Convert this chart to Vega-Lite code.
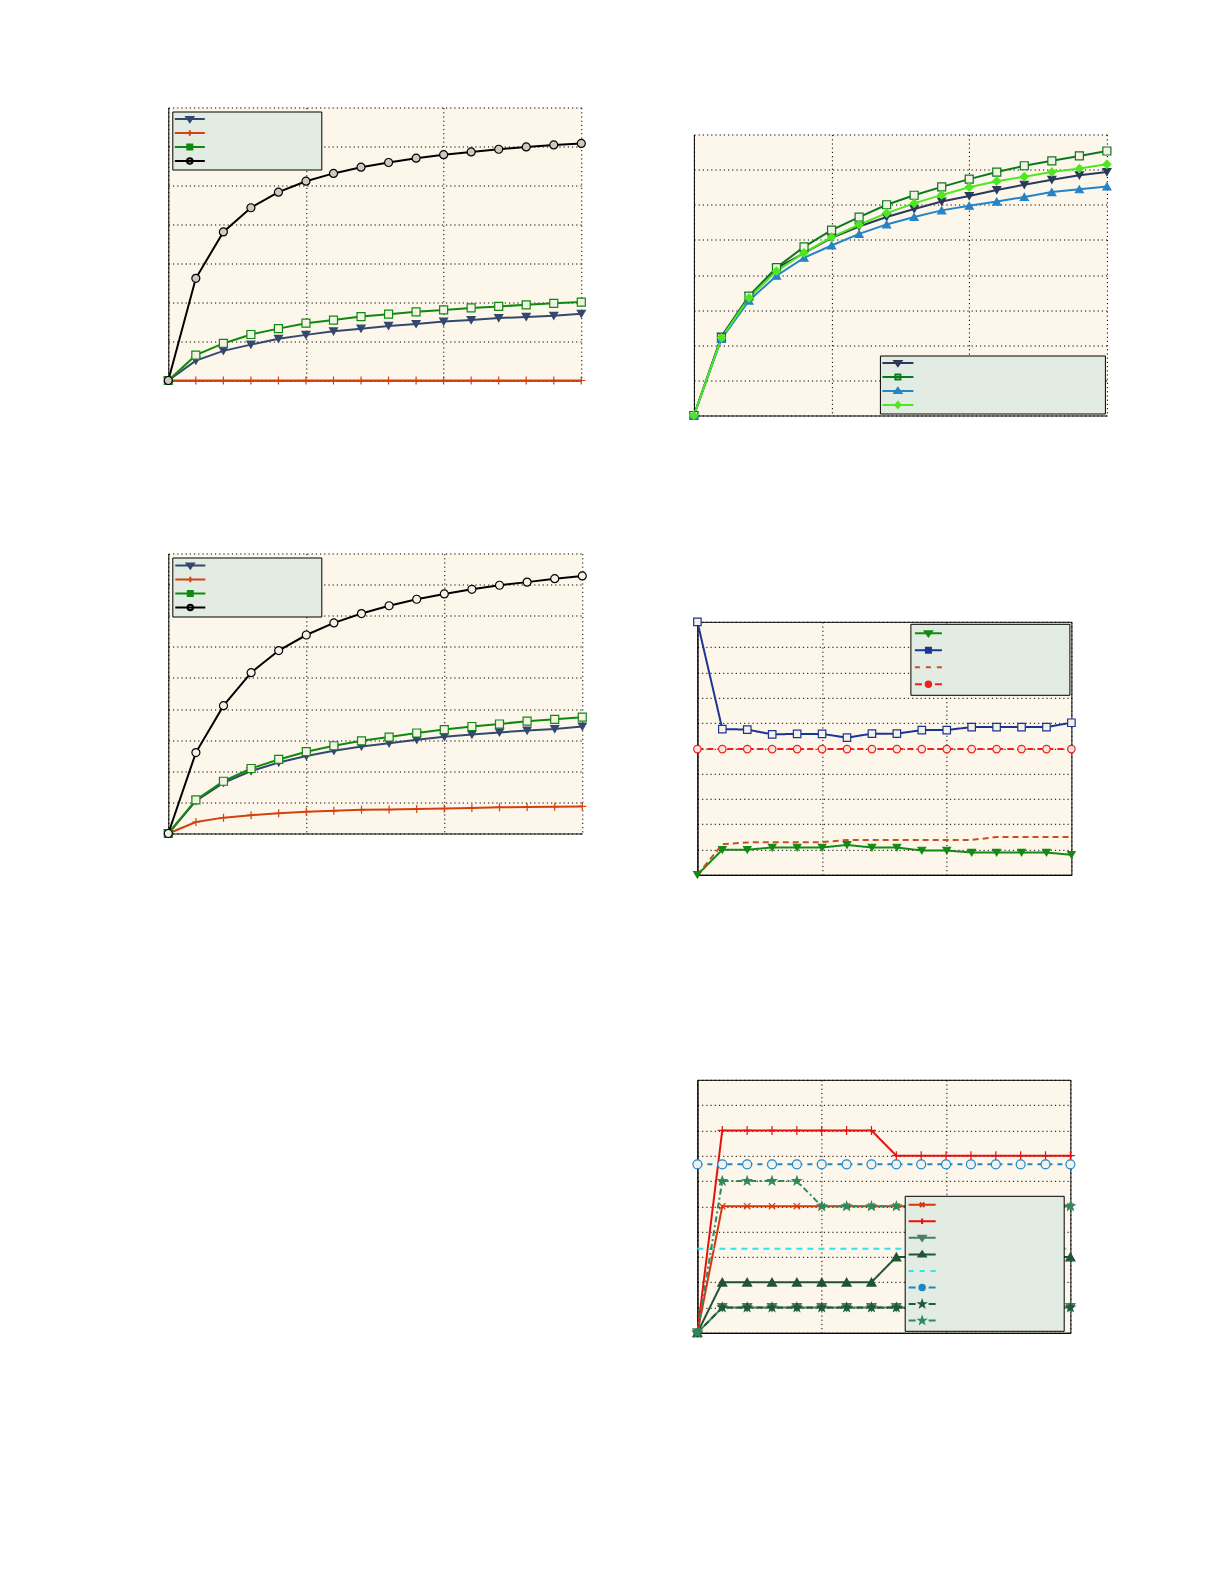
{
  "$schema": "https://vega.github.io/schema/vega-lite/v6.json",
  "padding": {"left": 161.3, "top": 107.5, "right": 0, "bottom": 0},
  "background": "white",
  "config": {
    "view": {"fill": "#fdf6ea", "stroke": null},
    "axis": {"labels": false, "ticks": false, "domainColor": "black", "domainWidth": 1, "grid": true, "gridColor": "black", "gridDash": [1.2, 3], "gridOpacity": 1, "gridWidth": 1}
  },
  "datasets": {
    "pA": [
      {"x": 0, "A1": 0, "A2": 0, "A3": 0, "A4": 0},
      {"x": 1, "A1": 0.51, "A2": 0, "A3": 0.65, "A4": 2.62},
      {"x": 2, "A1": 0.76, "A2": 0, "A3": 0.95, "A4": 3.81},
      {"x": 3, "A1": 0.92, "A2": 0, "A3": 1.18, "A4": 4.43},
      {"x": 4, "A1": 1.07, "A2": 0, "A3": 1.33, "A4": 4.83},
      {"x": 5, "A1": 1.17, "A2": 0, "A3": 1.47, "A4": 5.11},
      {"x": 6, "A1": 1.26, "A2": 0, "A3": 1.55, "A4": 5.31},
      {"x": 7, "A1": 1.33, "A2": 0, "A3": 1.64, "A4": 5.47},
      {"x": 8, "A1": 1.40, "A2": 0, "A3": 1.70, "A4": 5.59},
      {"x": 9, "A1": 1.45, "A2": 0, "A3": 1.76, "A4": 5.70},
      {"x": 10, "A1": 1.51, "A2": 0, "A3": 1.81, "A4": 5.79},
      {"x": 11, "A1": 1.55, "A2": 0, "A3": 1.86, "A4": 5.86},
      {"x": 12, "A1": 1.60, "A2": 0, "A3": 1.90, "A4": 5.93},
      {"x": 13, "A1": 1.63, "A2": 0, "A3": 1.94, "A4": 5.99},
      {"x": 14, "A1": 1.66, "A2": 0, "A3": 1.98, "A4": 6.04},
      {"x": 15, "A1": 1.71, "A2": 0, "A3": 2.01, "A4": 6.08}
    ],
    "pB": [
      {"x": 0, "B1": 0, "B2": 0, "B3": 0, "B4": 0},
      {"x": 1, "B1": 1.05, "B2": 0.37, "B3": 1.08, "B4": 2.60},
      {"x": 2, "B1": 1.63, "B2": 0.51, "B3": 1.68, "B4": 4.11},
      {"x": 3, "B1": 2.01, "B2": 0.59, "B3": 2.09, "B4": 5.17},
      {"x": 4, "B1": 2.28, "B2": 0.65, "B3": 2.38, "B4": 5.88},
      {"x": 5, "B1": 2.49, "B2": 0.70, "B3": 2.63, "B4": 6.38},
      {"x": 6, "B1": 2.66, "B2": 0.73, "B3": 2.82, "B4": 6.77},
      {"x": 7, "B1": 2.80, "B2": 0.76, "B3": 2.98, "B4": 7.07},
      {"x": 8, "B1": 2.90, "B2": 0.77, "B3": 3.10, "B4": 7.32},
      {"x": 9, "B1": 3.01, "B2": 0.79, "B3": 3.23, "B4": 7.53},
      {"x": 10, "B1": 3.11, "B2": 0.80, "B3": 3.34, "B4": 7.70},
      {"x": 11, "B1": 3.18, "B2": 0.82, "B3": 3.44, "B4": 7.85},
      {"x": 12, "B1": 3.25, "B2": 0.84, "B3": 3.52, "B4": 7.98},
      {"x": 13, "B1": 3.31, "B2": 0.85, "B3": 3.61, "B4": 8.08},
      {"x": 14, "B1": 3.36, "B2": 0.86, "B3": 3.67, "B4": 8.19},
      {"x": 15, "B1": 3.44, "B2": 0.87, "B3": 3.74, "B4": 8.28}
    ],
    "pC": [
      {"x": 0, "C1": 0, "C2": 0, "C3": 0, "C4": 0},
      {"x": 1, "C1": 2.25, "C2": 2.21, "C3": 2.18, "C4": 2.21},
      {"x": 2, "C1": 3.40, "C2": 3.40, "C3": 3.27, "C4": 3.35},
      {"x": 3, "C1": 4.19, "C2": 4.21, "C3": 3.98, "C4": 4.11},
      {"x": 4, "C1": 4.62, "C2": 4.80, "C3": 4.49, "C4": 4.63},
      {"x": 5, "C1": 5.06, "C2": 5.28, "C3": 4.84, "C4": 5.08},
      {"x": 6, "C1": 5.38, "C2": 5.65, "C3": 5.17, "C4": 5.43},
      {"x": 7, "C1": 5.65, "C2": 6.00, "C3": 5.44, "C4": 5.76},
      {"x": 8, "C1": 5.88, "C2": 6.27, "C3": 5.65, "C4": 6.04},
      {"x": 9, "C1": 6.09, "C2": 6.51, "C3": 5.84, "C4": 6.28},
      {"x": 10, "C1": 6.25, "C2": 6.73, "C3": 5.97, "C4": 6.50},
      {"x": 11, "C1": 6.42, "C2": 6.93, "C3": 6.09, "C4": 6.67},
      {"x": 12, "C1": 6.57, "C2": 7.11, "C3": 6.22, "C4": 6.80},
      {"x": 13, "C1": 6.71, "C2": 7.25, "C3": 6.36, "C4": 6.93},
      {"x": 14, "C1": 6.84, "C2": 7.39, "C3": 6.44, "C4": 7.03},
      {"x": 15, "C1": 6.93, "C2": 7.53, "C3": 6.52, "C4": 7.15}
    ],
    "pD": [
      {"x": 0, "D1": 0, "D2": 10, "D3": 0, "D4": 4.97},
      {"x": 1, "D1": 0.99, "D2": 5.76, "D3": 1.21, "D4": 4.97},
      {"x": 2, "D1": 0.99, "D2": 5.74, "D3": 1.28, "D4": 4.97},
      {"x": 3, "D1": 1.08, "D2": 5.55, "D3": 1.29, "D4": 4.97},
      {"x": 4, "D1": 1.08, "D2": 5.57, "D3": 1.29, "D4": 4.97},
      {"x": 5, "D1": 1.08, "D2": 5.57, "D3": 1.29, "D4": 4.97},
      {"x": 6, "D1": 1.18, "D2": 5.42, "D3": 1.38, "D4": 4.97},
      {"x": 7, "D1": 1.08, "D2": 5.58, "D3": 1.38, "D4": 4.97},
      {"x": 8, "D1": 1.08, "D2": 5.58, "D3": 1.38, "D4": 4.97},
      {"x": 9, "D1": 0.96, "D2": 5.72, "D3": 1.38, "D4": 4.97},
      {"x": 10, "D1": 0.96, "D2": 5.72, "D3": 1.38, "D4": 4.97},
      {"x": 11, "D1": 0.88, "D2": 5.84, "D3": 1.38, "D4": 4.97},
      {"x": 12, "D1": 0.88, "D2": 5.84, "D3": 1.49, "D4": 4.97},
      {"x": 13, "D1": 0.88, "D2": 5.84, "D3": 1.49, "D4": 4.97},
      {"x": 14, "D1": 0.88, "D2": 5.84, "D3": 1.49, "D4": 4.97},
      {"x": 15, "D1": 0.79, "D2": 6.01, "D3": 1.49, "D4": 4.97}
    ],
    "pE": [
      {"x": 0, "E1": 0, "E2": 0, "E3": 0, "E4": 0, "E5": 3.32, "E6": 6.66, "E7": 0, "E8": 0},
      {"x": 1, "E1": 5, "E2": 8, "E3": 1, "E4": 2, "E5": 3.32, "E6": 6.66, "E7": 1, "E8": 6},
      {"x": 2, "E1": 5, "E2": 8, "E3": 1, "E4": 2, "E5": 3.32, "E6": 6.66, "E7": 1, "E8": 6},
      {"x": 3, "E1": 5, "E2": 8, "E3": 1, "E4": 2, "E5": 3.32, "E6": 6.66, "E7": 1, "E8": 6},
      {"x": 4, "E1": 5, "E2": 8, "E3": 1, "E4": 2, "E5": 3.32, "E6": 6.66, "E7": 1, "E8": 6},
      {"x": 5, "E1": 5, "E2": 8, "E3": 1, "E4": 2, "E5": 3.32, "E6": 6.66, "E7": 1, "E8": 5},
      {"x": 6, "E1": 5, "E2": 8, "E3": 1, "E4": 2, "E5": 3.32, "E6": 6.66, "E7": 1, "E8": 5},
      {"x": 7, "E1": 5, "E2": 8, "E3": 1, "E4": 2, "E5": 3.32, "E6": 6.66, "E7": 1, "E8": 5},
      {"x": 8, "E1": 5, "E2": 7, "E3": 1, "E4": 3, "E5": 3.32, "E6": 6.66, "E7": 1, "E8": 5},
      {"x": 9, "E1": 5, "E2": 7, "E3": 1, "E4": 3, "E5": 3.32, "E6": 6.66, "E7": 1, "E8": 5},
      {"x": 10, "E1": 5, "E2": 7, "E3": 1, "E4": 3, "E5": 3.32, "E6": 6.66, "E7": 1, "E8": 5},
      {"x": 11, "E1": 5, "E2": 7, "E3": 1, "E4": 3, "E5": 3.32, "E6": 6.66, "E7": 1, "E8": 5},
      {"x": 12, "E1": 5, "E2": 7, "E3": 1, "E4": 3, "E5": 3.32, "E6": 6.66, "E7": 1, "E8": 5},
      {"x": 13, "E1": 5, "E2": 7, "E3": 1, "E4": 3, "E5": 3.32, "E6": 6.66, "E7": 1, "E8": 5},
      {"x": 14, "E1": 5, "E2": 7, "E3": 1, "E4": 3, "E5": 3.32, "E6": 6.66, "E7": 1, "E8": 5},
      {"x": 15, "E1": 5, "E2": 7, "E3": 1, "E4": 3, "E5": 3.32, "E6": 6.66, "E7": 1, "E8": 5}
    ]
  },
  "resolve": {"scale": {"color": "independent", "stroke": "independent", "fill": "independent", "shape": "independent", "strokeDash": "independent"}},
  "columns": 2,
  "align": "none",
  "spacing": 97.6,
  "concat": [
    {
      "columns": 1,
      "spacing": 166,
      "resolve": {"scale": {"color": "independent", "stroke": "independent", "fill": "independent", "shape": "independent", "strokeDash": "independent"}},
      "concat": [
        {
          "width": 413,
          "height": 273,
          "data": {"name": "pA"},
          "transform": [{"fold": ["A1", "A2", "A3", "A4"], "as": ["s", "y"]}],
          "encoding": {
            "x": {"field": "x", "type": "quantitative", "title": null, "scale": {"domain": [0, 15], "nice": false}, "axis": {"values": [0, 5, 10, 15], "minExtent": 0, "maxExtent": 0}},
            "y": {"field": "y", "type": "quantitative", "title": null, "scale": {"domain": [0, 7], "nice": false}, "axis": {"values": [0, 1, 2, 3, 4, 5, 6, 7], "minExtent": 0, "maxExtent": 0}}
          },
          "resolve": {"scale": {"shape": "independent", "fill": "independent", "stroke": "independent"}},
          "layer": [
            {
              "mark": {"type": "line", "strokeWidth": 2},
              "encoding": {
                "color": {"field": "s", "type": "nominal", "scale": {"domain": ["A1", "A2", "A3", "A4"], "range": ["#34486e", "#d4400f", "#0f8a0f", "#000000"]}, "legend": null}
              }
            },
            {
              "mark": {"type": "point", "size": 64, "strokeWidth": 1.2, "opacity": 1},
              "encoding": {
                "shape": {"field": "s", "type": "nominal", "scale": {"domain": ["A1", "A2", "A3", "A4"], "range": ["triangle-down", "M-1,0H1M0,-1V1", "square", "circle"]}, "legend": null},
                "stroke": {"field": "s", "type": "nominal", "scale": {"domain": ["A1", "A2", "A3", "A4"], "range": ["#34486e", "#d4400f", "#0f8a0f", "#000000"]}, "legend": null},
                "fill": {"field": "s", "type": "nominal", "scale": {"domain": ["A1", "A2", "A3", "A4"], "range": ["#34486e", "transparent", "#f6f1e6", "#cfcac0"]}, "legend": null}
              }
            },
            {
              "mark": {"type": "point", "size": 1, "opacity": 0, "filled": true},
              "encoding": {
                "shape": {"field": "s", "type": "nominal", "scale": {"domain": ["A1", "A2", "A3", "A4"], "range": [
                  "M0,-0.6M0,0.6M-3,0H3M-0.7,-0.4L0.7,-0.4L0,0.6Z",
                  "M0,-0.6M0,0.6M-3,0H3M0,-0.55V0.55",
                  "M0,-0.6M0,0.6M-3,0H3M-0.5,-0.5H0.5V0.5H-0.5Z",
                  "M0,-0.6M0,0.6M-3,0H3M-0.55,0A0.55,0.55 0 1,0 0.55,0A0.55,0.55 0 1,0 -0.55,0Z"]},
                  "legend": {"orient": "top-left", "offset": 4, "title": null, "padding": 1.5, "rowPadding": 0, "labelExpr": "''", "labelFontSize": 1, "labelOffset": 123.5, "symbolSize": 100, "symbolOffset": 10, "symbolStrokeWidth": 2, "symbolOpacity": 1, "fillColor": "#e3ece3", "strokeColor": "black"}},
                "stroke": {"field": "s", "type": "nominal", "scale": {"domain": ["A1", "A2", "A3", "A4"], "range": ["#34486e", "#d4400f", "#0f8a0f", "#000000"]},
                  "legend": {"orient": "top-left", "offset": 4, "title": null, "padding": 1.5, "rowPadding": 0, "labelExpr": "''", "labelFontSize": 1, "labelOffset": 123.5, "symbolSize": 100, "symbolOffset": 10, "symbolStrokeWidth": 2, "symbolOpacity": 1, "fillColor": "#e3ece3", "strokeColor": "black"}},
                "fill": {"field": "s", "type": "nominal", "scale": {"domain": ["A1", "A2", "A3", "A4"], "range": ["#34486e", "transparent", "#0f8a0f", "#e3ece3"]},
                  "legend": {"orient": "top-left", "offset": 4, "title": null, "padding": 1.5, "rowPadding": 0, "labelExpr": "''", "labelFontSize": 1, "labelOffset": 123.5, "symbolSize": 100, "symbolOffset": 10, "symbolStrokeWidth": 2, "symbolOpacity": 1, "fillColor": "#e3ece3", "strokeColor": "black"}}
              }
            }
          ]
        },
        {
          "width": 414,
          "height": 280,
          "data": {"name": "pB"},
          "transform": [{"fold": ["B1", "B2", "B3", "B4"], "as": ["s", "y"]}],
          "encoding": {
            "x": {"field": "x", "type": "quantitative", "title": null, "scale": {"domain": [0, 15], "nice": false}, "axis": {"values": [0, 5, 10, 15], "minExtent": 0, "maxExtent": 0}},
            "y": {"field": "y", "type": "quantitative", "title": null, "scale": {"domain": [0, 9], "nice": false}, "axis": {"values": [0, 1, 2, 3, 4, 5, 6, 7, 8, 9], "minExtent": 0, "maxExtent": 0}}
          },
          "resolve": {"scale": {"shape": "independent", "fill": "independent", "stroke": "independent"}},
          "layer": [
            {
              "mark": {"type": "line", "strokeWidth": 2},
              "encoding": {
                "color": {"field": "s", "type": "nominal", "scale": {"domain": ["B1", "B2", "B3", "B4"], "range": ["#34486e", "#d4400f", "#0f8a0f", "#000000"]}, "legend": null}
              }
            },
            {
              "mark": {"type": "point", "size": 64, "strokeWidth": 1.2, "opacity": 1},
              "encoding": {
                "shape": {"field": "s", "type": "nominal", "scale": {"domain": ["B1", "B2", "B3", "B4"], "range": ["triangle-down", "M-1,0H1M0,-1V1", "square", "circle"]}, "legend": null},
                "stroke": {"field": "s", "type": "nominal", "scale": {"domain": ["B1", "B2", "B3", "B4"], "range": ["#34486e", "#d4400f", "#0f8a0f", "#000000"]}, "legend": null},
                "fill": {"field": "s", "type": "nominal", "scale": {"domain": ["B1", "B2", "B3", "B4"], "range": ["#34486e", "transparent", "#f6f1e6", "#f6f1e6"]}, "legend": null}
              }
            },
            {
              "mark": {"type": "point", "size": 1, "opacity": 0, "filled": true},
              "encoding": {
                "shape": {"field": "s", "type": "nominal", "scale": {"domain": ["B1", "B2", "B3", "B4"], "range": [
                  "M0,-0.6M0,0.6M-3,0H3M-0.7,-0.4L0.7,-0.4L0,0.6Z",
                  "M0,-0.6M0,0.6M-3,0H3M0,-0.55V0.55",
                  "M0,-0.6M0,0.6M-3,0H3M-0.5,-0.5H0.5V0.5H-0.5Z",
                  "M0,-0.6M0,0.6M-3,0H3M-0.55,0A0.55,0.55 0 1,0 0.55,0A0.55,0.55 0 1,0 -0.55,0Z"]},
                  "legend": {"orient": "top-left", "offset": 3.5, "title": null, "padding": 2, "rowPadding": 0, "labelExpr": "''", "labelFontSize": 1, "labelOffset": 122.5, "symbolSize": 100, "symbolOffset": 10, "symbolStrokeWidth": 2, "symbolOpacity": 1, "fillColor": "#e3ece3", "strokeColor": "black"}},
                "stroke": {"field": "s", "type": "nominal", "scale": {"domain": ["B1", "B2", "B3", "B4"], "range": ["#34486e", "#d4400f", "#0f8a0f", "#000000"]},
                  "legend": {"orient": "top-left", "offset": 3.5, "title": null, "padding": 2, "rowPadding": 0, "labelExpr": "''", "labelFontSize": 1, "labelOffset": 122.5, "symbolSize": 100, "symbolOffset": 10, "symbolStrokeWidth": 2, "symbolOpacity": 1, "fillColor": "#e3ece3", "strokeColor": "black"}},
                "fill": {"field": "s", "type": "nominal", "scale": {"domain": ["B1", "B2", "B3", "B4"], "range": ["#34486e", "transparent", "#0f8a0f", "#e3ece3"]},
                  "legend": {"orient": "top-left", "offset": 3.5, "title": null, "padding": 2, "rowPadding": 0, "labelExpr": "''", "labelFontSize": 1, "labelOffset": 122.5, "symbolSize": 100, "symbolOffset": 10, "symbolStrokeWidth": 2, "symbolOpacity": 1, "fillColor": "#e3ece3", "strokeColor": "black"}}
              }
            }
          ]
        }
      ]
    },
    {
      "columns": 1,
      "spacing": 26,
      "resolve": {"scale": {"color": "independent", "stroke": "independent", "fill": "independent", "shape": "independent", "strokeDash": "independent"}},
      "concat": [
        {"width": 1, "height": 1, "view": {"fill": null, "stroke": null}, "data": {"values": []}, "mark": "point"},
        {
          "columns": 1,
          "spacing": 192.3,
          "resolve": {"scale": {"color": "independent", "stroke": "independent", "fill": "independent", "shape": "independent", "strokeDash": "independent"}},
          "concat": [
            {
              "width": 413,
              "height": 281,
              "data": {"name": "pC"},
              "transform": [{"fold": ["C1", "C2", "C3", "C4"], "as": ["s", "y"]}],
              "encoding": {
                "x": {"field": "x", "type": "quantitative", "title": null, "scale": {"domain": [0, 15], "nice": false}, "axis": {"values": [0, 5, 10, 15], "minExtent": 0, "maxExtent": 0}},
                "y": {"field": "y", "type": "quantitative", "title": null, "scale": {"domain": [0, 8], "nice": false}, "axis": {"values": [0, 1, 2, 3, 4, 5, 6, 7, 8], "minExtent": 0, "maxExtent": 0}}
              },
              "resolve": {"scale": {"shape": "independent", "fill": "independent", "stroke": "independent"}},
              "layer": [
                {
                  "mark": {"type": "line", "strokeWidth": 2},
                  "encoding": {
                    "color": {"field": "s", "type": "nominal", "scale": {"domain": ["C1", "C2", "C3", "C4"], "range": ["#293a5a", "#0a7a1e", "#2484c6", "#4ee81e"]}, "legend": null}
                  }
                },
                {
                  "mark": {"type": "point", "size": 64, "strokeWidth": 1.2, "opacity": 1},
                  "encoding": {
                    "shape": {"field": "s", "type": "nominal", "scale": {"domain": ["C1", "C2", "C3", "C4"], "range": ["triangle-down", "square", "triangle-up", "diamond"]}, "legend": null},
                    "stroke": {"field": "s", "type": "nominal", "scale": {"domain": ["C1", "C2", "C3", "C4"], "range": ["#293a5a", "#0a7a1e", "#2484c6", "#4ee81e"]}, "legend": null},
                    "fill": {"field": "s", "type": "nominal", "scale": {"domain": ["C1", "C2", "C3", "C4"], "range": ["#293a5a", "#f6f1e6", "#2484c6", "#4ee81e"]}, "legend": null}
                  }
                },
                {
                  "mark": {"type": "point", "size": 1, "opacity": 0, "filled": true},
                  "encoding": {
                    "shape": {"field": "s", "type": "nominal", "scale": {"domain": ["C1", "C2", "C3", "C4"], "range": [
                      "M0,-0.6M0,0.6M-3.1,0H3.1M-0.7,-0.4L0.7,-0.4L0,0.6Z",
                      "M0,-0.6M0,0.6M-3.1,0H3.1M-0.5,-0.5H0.5V0.5H-0.5Z",
                      "M0,-0.6M0,0.6M-3.1,0H3.1M-0.7,0.4L0.7,0.4L0,-0.6Z",
                      "M0,-0.6M0,0.6M-3.1,0H3.1M0,-0.6L0.5,0L0,0.6L-0.5,0Z"]},
                      "legend": {"orient": "bottom-right", "offset": 2.5, "title": null, "padding": 1.5, "rowPadding": 0, "labelExpr": "''", "labelFontSize": 1, "labelOffset": 199, "symbolSize": 100, "symbolOffset": 10.5, "symbolStrokeWidth": 2, "symbolOpacity": 1, "fillColor": "#e3ece3", "strokeColor": "black"}},
                    "stroke": {"field": "s", "type": "nominal", "scale": {"domain": ["C1", "C2", "C3", "C4"], "range": ["#293a5a", "#0a7a1e", "#2484c6", "#4ee81e"]},
                      "legend": {"orient": "bottom-right", "offset": 2.5, "title": null, "padding": 1.5, "rowPadding": 0, "labelExpr": "''", "labelFontSize": 1, "labelOffset": 199, "symbolSize": 100, "symbolOffset": 10.5, "symbolStrokeWidth": 2, "symbolOpacity": 1, "fillColor": "#e3ece3", "strokeColor": "black"}},
                    "fill": {"field": "s", "type": "nominal", "scale": {"domain": ["C1", "C2", "C3", "C4"], "range": ["#293a5a", "#e3ece3", "#2484c6", "#4ee81e"]},
                      "legend": {"orient": "bottom-right", "offset": 2.5, "title": null, "padding": 1.5, "rowPadding": 0, "labelExpr": "''", "labelFontSize": 1, "labelOffset": 199, "symbolSize": 100, "symbolOffset": 10.5, "symbolStrokeWidth": 2, "symbolOpacity": 1, "fillColor": "#e3ece3", "strokeColor": "black"}}
                  }
                }
              ]
            },
            {
              "columns": 2,
              "spacing": -5.5,
              "resolve": {"scale": {"color": "independent", "stroke": "independent", "fill": "independent", "shape": "independent", "strokeDash": "independent"}},
              "concat": [
                {"width": 1, "height": 1, "view": {"fill": null, "stroke": null}, "data": {"values": []}, "mark": "point"},
                {
                  "columns": 1,
                  "spacing": 197,
                  "resolve": {"scale": {"color": "independent", "stroke": "independent", "fill": "independent", "shape": "independent", "strokeDash": "independent"}},
                  "concat": [
                    {
                      "width": 374,
                      "height": 253,
                      "view": {"stroke": "black", "strokeWidth": 1},
                      "data": {"name": "pD"},
                      "transform": [{"fold": ["D1", "D2", "D3", "D4"], "as": ["s", "y"]}],
                      "encoding": {
                        "x": {"field": "x", "type": "quantitative", "title": null, "scale": {"domain": [0, 15], "nice": false}, "axis": {"values": [0, 5, 10, 15], "minExtent": 0, "maxExtent": 0}},
                        "y": {"field": "y", "type": "quantitative", "title": null, "scale": {"domain": [0, 10], "nice": false}, "axis": {"values": [0, 1, 2, 3, 4, 5, 6, 7, 8, 9, 10], "minExtent": 0, "maxExtent": 0}}
                      },
                      "resolve": {"scale": {"shape": "independent", "fill": "independent", "stroke": "independent"}},
                      "layer": [
                        {
                          "mark": {"type": "line", "strokeWidth": 2},
                          "encoding": {
                            "strokeDash": {"field": "s", "type": "nominal", "scale": {"domain": ["D1", "D2", "D3", "D4"], "range": [[1, 0], [1, 0], [6, 4], [6, 4]]}, "legend": null},
                            "color": {"field": "s", "type": "nominal", "scale": {"domain": ["D1", "D2", "D3", "D4"], "range": ["#138a13", "#1c3591", "#c8501e", "#ee2020"]}, "legend": null}
                          }
                        },
                        {
                          "transform": [{"filter": "datum.s !== 'D3'"}],
                          "mark": {"type": "point", "size": 56, "strokeWidth": 1.2, "opacity": 1},
                          "encoding": {
                            "shape": {"field": "s", "type": "nominal", "scale": {"domain": ["D1", "D2", "D4"], "range": ["triangle-down", "square", "circle"]}, "legend": null},
                            "stroke": {"field": "s", "type": "nominal", "scale": {"domain": ["D1", "D2", "D4"], "range": ["#138a13", "#1c3591", "#ee2020"]}, "legend": null},
                            "fill": {"field": "s", "type": "nominal", "scale": {"domain": ["D1", "D2", "D4"], "range": ["#138a13", "#f6f1e6", "#fbe3dc"]}, "legend": null}
                          }
                        },
                        {
                          "mark": {"type": "point", "size": 1, "opacity": 0, "filled": true},
                          "encoding": {
                            "shape": {"field": "s", "type": "nominal", "scale": {"domain": ["D1", "D2", "D3", "D4"], "range": [
                              "M0,-0.6M0,0.6M-2.7,0H2.7M-0.7,-0.4L0.7,-0.4L0,0.6Z",
                              "M0,-0.6M0,0.6M-2.7,0H2.7M-0.5,-0.5H0.5V0.5H-0.5Z",
                              "M0,-0.6M0,0.6M-2.7,0H-1.7M-0.5,0H0.5M1.7,0H2.7",
                              "M0,-0.6M0,0.6M-2.7,0H-1.3M1.3,0H2.7M-0.55,0A0.55,0.55 0 1,0 0.55,0A0.55,0.55 0 1,0 -0.55,0Z"]},
                              "legend": {"orient": "top-right", "offset": 2, "title": null, "padding": 3.5, "rowPadding": 3, "labelExpr": "''", "labelFontSize": 1, "labelOffset": 131, "symbolSize": 100, "symbolOffset": 8.5, "symbolStrokeWidth": 2, "symbolOpacity": 1, "fillColor": "#e3ece3", "strokeColor": "black"}},
                            "stroke": {"field": "s", "type": "nominal", "scale": {"domain": ["D1", "D2", "D3", "D4"], "range": ["#138a13", "#1c3591", "#c8501e", "#ee2020"]},
                              "legend": {"orient": "top-right", "offset": 2, "title": null, "padding": 3.5, "rowPadding": 3, "labelExpr": "''", "labelFontSize": 1, "labelOffset": 131, "symbolSize": 100, "symbolOffset": 8.5, "symbolStrokeWidth": 2, "symbolOpacity": 1, "fillColor": "#e3ece3", "strokeColor": "black"}},
                            "fill": {"field": "s", "type": "nominal", "scale": {"domain": ["D1", "D2", "D3", "D4"], "range": ["#138a13", "#1c3591", "transparent", "#ee2020"]},
                              "legend": {"orient": "top-right", "offset": 2, "title": null, "padding": 3.5, "rowPadding": 3, "labelExpr": "''", "labelFontSize": 1, "labelOffset": 131, "symbolSize": 100, "symbolOffset": 8.5, "symbolStrokeWidth": 2, "symbolOpacity": 1, "fillColor": "#e3ece3", "strokeColor": "black"}}
                          }
                        }
                      ]
                    },
                    {
                      "width": 373,
                      "height": 253,
                      "view": {"stroke": "black", "strokeWidth": 1},
                      "data": {"name": "pE"},
                      "transform": [{"fold": ["E1", "E2", "E3", "E4", "E5", "E6", "E7", "E8"], "as": ["s", "y"]}],
                      "encoding": {
                        "x": {"field": "x", "type": "quantitative", "title": null, "scale": {"domain": [0, 15], "nice": false}, "axis": {"values": [0, 5, 10, 15], "minExtent": 0, "maxExtent": 0}},
                        "y": {"field": "y", "type": "quantitative", "title": null, "scale": {"domain": [0, 10], "nice": false}, "axis": {"values": [0, 1, 2, 3, 4, 5, 6, 7, 8, 9, 10], "minExtent": 0, "maxExtent": 0}}
                      },
                      "resolve": {"scale": {"shape": "independent", "fill": "independent", "stroke": "independent"}},
                      "layer": [
                        {
                          "mark": {"type": "line", "strokeWidth": 2},
                          "encoding": {
                            "strokeDash": {"field": "s", "type": "nominal", "scale": {"domain": ["E1", "E2", "E3", "E4", "E5", "E6", "E7", "E8"], "range": [[1, 0], [1, 0], [1, 0], [1, 0], [6, 5], [5, 5], [6, 4], [6, 3, 2, 3]]}, "legend": null},
                            "color": {"field": "s", "type": "nominal", "scale": {"domain": ["E1", "E2", "E3", "E4", "E5", "E6", "E7", "E8"], "range": ["#d4380f", "#e8100f", "#4a7d62", "#1f5535", "#2ee4ee", "#1f86c4", "#1e5a3a", "#2e8a5e"]}, "legend": null}
                          }
                        },
                        {
                          "transform": [{"filter": "datum.s !== 'E5'"}],
                          "mark": {"type": "point", "size": 81, "strokeWidth": 1.2, "opacity": 1},
                          "encoding": {
                            "shape": {"field": "s", "type": "nominal", "scale": {"domain": ["E1", "E2", "E3", "E4", "E6", "E7", "E8"], "range": ["M-0.7,-0.7L0.7,0.7M-0.7,0.7L0.7,-0.7", "M-1,0H1M0,-1V1", "triangle-down", "triangle-up", "circle", "M0,-1L0.235,-0.324L0.951,-0.309L0.38,0.124L0.588,0.809L0,0.4L-0.588,0.809L-0.38,0.124L-0.951,-0.309L-0.235,-0.324Z", "M0,-1L0.235,-0.324L0.951,-0.309L0.38,0.124L0.588,0.809L0,0.4L-0.588,0.809L-0.38,0.124L-0.951,-0.309L-0.235,-0.324Z"]}, "legend": null},
                            "stroke": {"field": "s", "type": "nominal", "scale": {"domain": ["E1", "E2", "E3", "E4", "E6", "E7", "E8"], "range": ["#d4380f", "#e8100f", "#4a7d62", "#1f5535", "#1f86c4", "#1e5a3a", "#2e8a5e"]}, "legend": null},
                            "fill": {"field": "s", "type": "nominal", "scale": {"domain": ["E1", "E2", "E3", "E4", "E6", "E7", "E8"], "range": ["transparent", "transparent", "#4a7d62", "#1f5535", "#eef3f2", "#1e5a3a", "#2e8a5e"]}, "legend": null}
                          }
                        },
                        {
                          "mark": {"type": "point", "size": 1, "opacity": 0, "filled": true},
                          "encoding": {
                            "shape": {"field": "s", "type": "nominal", "scale": {"domain": ["E1", "E2", "E3", "E4", "E5", "E6", "E7", "E8"], "range": [
                              "M0,-0.6M0,0.6M-2.7,0H2.7M-0.45,-0.45L0.45,0.45M-0.45,0.45L0.45,-0.45",
                              "M0,-0.6M0,0.6M-2.7,0H2.7M0,-0.55V0.55",
                              "M0,-0.6M0,0.6M-2.7,0H2.7M-0.7,-0.4L0.7,-0.4L0,0.6Z",
                              "M0,-0.6M0,0.6M-2.7,0H2.7M-0.7,0.4L0.7,0.4L0,-0.6Z",
                              "M0,-0.6M0,0.6M-2.7,0H-1.7M-0.5,0H0.5M1.7,0H2.7",
                              "M0,-0.6M0,0.6M-2.7,0H-1.3M1.3,0H2.7M-0.55,0A0.55,0.55 0 1,0 0.55,0A0.55,0.55 0 1,0 -0.55,0Z",
                              "M0,-0.6M0,0.6M-2.7,0H-1.3M1.3,0H2.7M0,-0.6L0.141,-0.194L0.571,-0.185L0.228,0.074L0.353,0.485L0,0.24L-0.353,0.485L-0.228,0.074L-0.571,-0.185L-0.141,-0.194Z",
                              "M0,-0.6M0,0.6M-2.7,0H-1.3M1.3,0H2.7M0,-0.6L0.141,-0.194L0.571,-0.185L0.228,0.074L0.353,0.485L0,0.24L-0.353,0.485L-0.228,0.074L-0.571,-0.185L-0.141,-0.194Z"]},
                              "legend": {"orient": "none", "legendX": 207.3, "legendY": 116, "title": null, "padding": 2.95, "rowPadding": 2.55, "labelExpr": "''", "labelFontSize": 1, "labelOffset": 132.1, "symbolSize": 100, "symbolOffset": 8.5, "symbolStrokeWidth": 2, "symbolOpacity": 1, "fillColor": "#e3ece3", "strokeColor": "black"}},
                            "stroke": {"field": "s", "type": "nominal", "scale": {"domain": ["E1", "E2", "E3", "E4", "E5", "E6", "E7", "E8"], "range": ["#d4380f", "#e8100f", "#4a7d62", "#1f5535", "#2ee4ee", "#1f86c4", "#1e5a3a", "#2e8a5e"]},
                              "legend": {"orient": "none", "legendX": 207.3, "legendY": 116, "title": null, "padding": 2.95, "rowPadding": 2.55, "labelExpr": "''", "labelFontSize": 1, "labelOffset": 132.1, "symbolSize": 100, "symbolOffset": 8.5, "symbolStrokeWidth": 2, "symbolOpacity": 1, "fillColor": "#e3ece3", "strokeColor": "black"}},
                            "fill": {"field": "s", "type": "nominal", "scale": {"domain": ["E1", "E2", "E3", "E4", "E5", "E6", "E7", "E8"], "range": ["transparent", "transparent", "#4a7d62", "#1f5535", "transparent", "#1f86c4", "#1e5a3a", "#2e8a5e"]},
                              "legend": {"orient": "none", "legendX": 207.3, "legendY": 116, "title": null, "padding": 2.95, "rowPadding": 2.55, "labelExpr": "''", "labelFontSize": 1, "labelOffset": 132.1, "symbolSize": 100, "symbolOffset": 8.5, "symbolStrokeWidth": 2, "symbolOpacity": 1, "fillColor": "#e3ece3", "strokeColor": "black"}}
                          }
                        }
                      ]
                    }
                  ]
                }
              ]
            }
          ]
        }
      ]
    }
  ]
}
